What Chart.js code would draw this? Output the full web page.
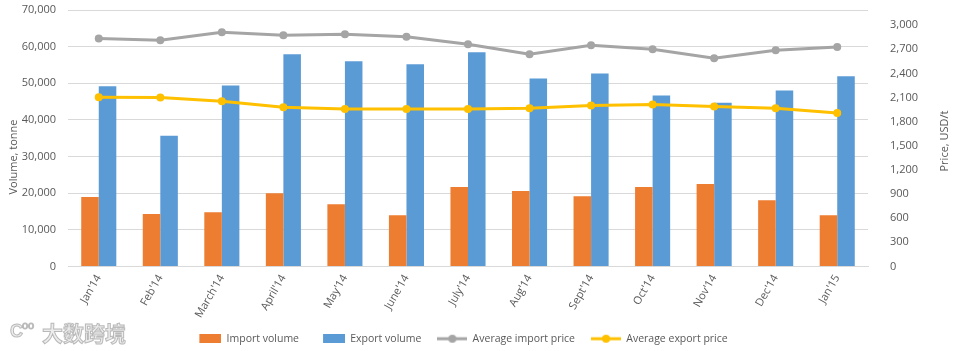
<!DOCTYPE html>
<html>
<head>
<meta charset="utf-8">
<script src="https://cdn.jsdelivr.net/npm/chart.js@4/dist/chart.umd.min.js"></script>
<style>
html,body{margin:0;padding:0;background:#fff;}
#wrap{position:relative;width:959px;height:351px;}
</style>
</head>
<body>
<div id="wrap"><canvas id="c" width="959" height="351"></canvas></div>
<script>
const categories = ["Jan'14","Feb'14","March'14","April'14","May'14","June'14","July'14","Aug'14","Sept'14","Oct'14","Nov'14","Dec'14","Jan'15"];
const importVolume = [19000,14300,14800,20000,17000,14000,21700,20600,19200,21700,22500,18100,14000];
const exportVolume = [49200,35700,49400,57900,56000,55200,58500,51300,52700,46700,44700,48000,51900];
const avgImportPrice = [2834,2812,2912,2875,2887,2854,2762,2637,2750,2700,2587,2687,2729];
const avgExportPrice = [2104,2100,2054,1979,1958,1958,1958,1966,2000,2012,1987,1966,1908];
const volumeTicks = [0,10000,20000,30000,40000,50000,60000,70000];
const priceTicks = [0,300,600,900,1200,1500,1800,2100,2400,2700,3000];
const leftTitle = 'Volume, tonne';
const rightTitle = 'Price, USD/t';

const TXT = '#595959';
const FONT = "'Open Sans', 'Liberation Sans', sans-serif";
Chart.defaults.font.family = FONT;
Chart.defaults.font.size = 11;
Chart.defaults.color = TXT;

function boxImg(color){
  const c = document.createElement('canvas'); c.width = 30; c.height = 9;
  const x = c.getContext('2d'); x.fillStyle = color; x.fillRect(8,0,22,9); return c;
}
function lineImg(color){
  const c = document.createElement('canvas'); c.width = 30; c.height = 10;
  const x = c.getContext('2d');
  x.strokeStyle = color; x.lineWidth = 3; x.beginPath(); x.moveTo(0,5); x.lineTo(30,5); x.stroke();
  x.fillStyle = color; x.beginPath(); x.arc(15,5,4,0,Math.PI*2); x.fill(); return c;
}

const extras = {
  id:'extras',
  afterLayout(chart){
    const lg = chart.legend;
    if (lg) { lg.left -= 20; lg.right -= 20; lg.top += 3; lg.bottom += 3; }
    const xs = chart.scales.x;
    if (xs) { xs.bottom = xs.top + 62; }
  },
  afterDraw(chart){
    const ctx = chart.ctx; ctx.save();
    ctx.fillStyle = TXT; ctx.font = "11px " + FONT; ctx.textAlign = 'center'; ctx.textBaseline = 'middle';
    ctx.save(); ctx.translate(14, 157); ctx.rotate(-Math.PI/2); ctx.fillText(leftTitle, 0, 0); ctx.restore();
    ctx.save(); ctx.translate(945, 141); ctx.rotate(-Math.PI/2); ctx.fillText(rightTitle, 0, 0); ctx.restore();
    ctx.textAlign = 'left';
    ctx.font = "bold 21px 'Noto Sans CJK SC', sans-serif";
    ctx.strokeStyle = 'rgba(170,170,170,0.8)'; ctx.lineWidth = 1;
    ctx.fillStyle = 'rgba(235,235,235,0.9)';
    ctx.fillText('大数跨境', 42, 333);
    ctx.strokeText('大数跨境', 42, 333);
    ctx.font = "bold 18px 'Liberation Sans', sans-serif";
    ctx.fillText('C', 10, 332); ctx.strokeText('C', 10, 332);
    ctx.font = "11px 'Liberation Sans', sans-serif";
    ctx.strokeText('oo', 22, 326);
    ctx.restore();
  }
};

new Chart(document.getElementById('c'), {
  data: {
    labels: categories,
    datasets: [
      {type:'bar', label:'Import volume', data: importVolume, backgroundColor:'#ED7D31', yAxisID:'y', order:2,
       categoryPercentage:0.57, barPercentage:1.0},
      {type:'bar', label:'Export volume', data: exportVolume, backgroundColor:'#5B9BD5', yAxisID:'y', order:2,
       categoryPercentage:0.57, barPercentage:1.0},
      {type:'line', label:'Average import price', data: avgImportPrice, borderColor:'#A5A5A5', backgroundColor:'#A5A5A5',
       borderWidth:3, pointRadius:4, pointBackgroundColor:'#A5A5A5', pointBorderWidth:0, yAxisID:'y2', order:0, tension:0},
      {type:'line', label:'Average export price', data: avgExportPrice, borderColor:'#FFC000', backgroundColor:'#FFC000',
       borderWidth:3, pointRadius:4, pointBackgroundColor:'#FFC000', pointBorderWidth:0, yAxisID:'y2', order:0, tension:0}
    ]
  },
  options: {
    responsive:false, animation:false,
    layout:{padding:{left:0,right:0,top:10,bottom:0}},
    plugins:{
      tooltip:{enabled:false},
      legend:{
        position:'bottom',
        labels:{
          usePointStyle:true, pointStyleWidth:30, padding:16, color:TXT, font:{size:10.5},
          sort:(a,b)=>a.datasetIndex-b.datasetIndex,
          generateLabels(chart){
            const base = Chart.defaults.plugins.legend.labels.generateLabels(chart);
            base.forEach(it=>{
              const ds = chart.data.datasets[it.datasetIndex];
              it.pointStyle = ds.type==='bar' ? boxImg(ds.backgroundColor) : lineImg(ds.borderColor);
            });
            return base;
          }
        }
      }
    },
    scales:{
      x:{
        grid:{display:false, drawTicks:false},
        border:{color:'#D9D9D9'},
        ticks:{minRotation:60, maxRotation:60, padding:6, color:TXT},
        afterFit(s){ s.paddingLeft = 0; s.paddingRight = 0; s.height = 48; }
      },
      y:{
        position:'left', min:0, max:70000,
        afterBuildTicks(s){ s.ticks = volumeTicks.map(v=>({value:v})); },
        afterFit(s){ s.width = 68; s.paddingTop = 0; s.paddingBottom = 0; },
        grid:{color:'#D9D9D9', drawTicks:false},
        border:{display:false},
        ticks:{padding:12, color:TXT, callback:v=>v.toLocaleString('en-US')}
      },
      y2:{
        position:'right', min:0, max:3187.5,
        afterBuildTicks(s){ s.ticks = priceTicks.map(v=>({value:v})); },
        afterFit(s){ s.width = 91; s.paddingTop = 0; s.paddingBottom = 0; },
        grid:{display:false, drawTicks:false},
        border:{display:false},
        ticks:{padding:22, color:TXT, callback:v=>v.toLocaleString('en-US')}
      }
    }
  },
  plugins:[extras]
});
</script>
</body>
</html>
